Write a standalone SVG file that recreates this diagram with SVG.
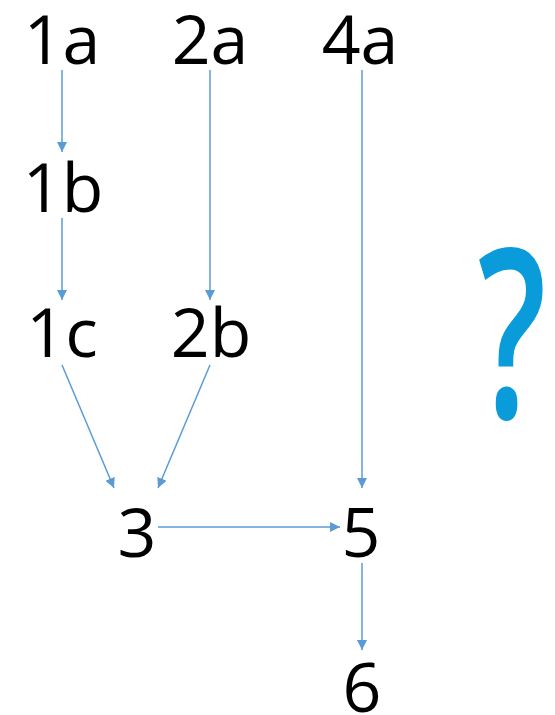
<svg xmlns="http://www.w3.org/2000/svg" width="555" height="715" viewBox="0 0 555 715">
  <style>
    .lbl { font-family: "Open Sans", "Noto Sans", "DejaVu Sans", sans-serif; font-size: 68px; fill: #000; text-anchor: middle; }
    .edge { stroke: #5B9BD5; stroke-width: 1.5; fill: none; marker-end: url(#arrow); }
    .q { font-family: "Open Sans", "Noto Sans", sans-serif; font-size: 236px; font-weight: 600; fill: #0A9BDB; text-anchor: middle; }
  </style>
  <defs>
    <marker id="arrow" viewBox="0 0 10 10" refX="10" refY="5" markerWidth="10" markerHeight="10" markerUnits="userSpaceOnUse" orient="auto">
      <path d="M0,0 L10,5 L0,10 z" fill="#5B9BD5"/>
    </marker>
  </defs>
  <rect width="555" height="715" fill="#fff"/>

  <g id="connectors">
    <line class="edge" x1="62" y1="70" x2="62" y2="152"/>
    <line class="edge" x1="62" y1="218" x2="62" y2="300"/>
    <line class="edge" x1="210" y1="70" x2="210" y2="300"/>
    <line class="edge" x1="362" y1="70" x2="362" y2="488"/>
    <line class="edge" x1="62" y1="365" x2="114" y2="488"/>
    <line class="edge" x1="210" y1="365" x2="158" y2="488"/>
    <line class="edge" x1="158" y1="527" x2="340" y2="527"/>
    <line class="edge" x1="362" y1="563" x2="362" y2="650"/>
  </g>

  <g id="n1a"><text class="lbl" x="62" y="64">1a</text></g>
  <g id="n2a"><text class="lbl" x="210" y="64">2a</text></g>
  <g id="n4a"><text class="lbl" x="360" y="64">4a</text></g>
  <g id="n1b"><text class="lbl" x="63" y="212">1b</text></g>
  <g id="n1c"><text class="lbl" x="62" y="357">1c</text></g>
  <g id="n2b"><text class="lbl" x="211" y="357">2b</text></g>
  <g id="n3"><text class="lbl" x="137" y="557">3</text></g>
  <g id="n5"><text class="lbl" x="361" y="557">5</text></g>
  <g id="n6"><text class="lbl" x="362" y="712">6</text></g>
  <g id="question"><text class="q" transform="translate(512,418) scale(0.64,1)">?</text></g>
</svg>
